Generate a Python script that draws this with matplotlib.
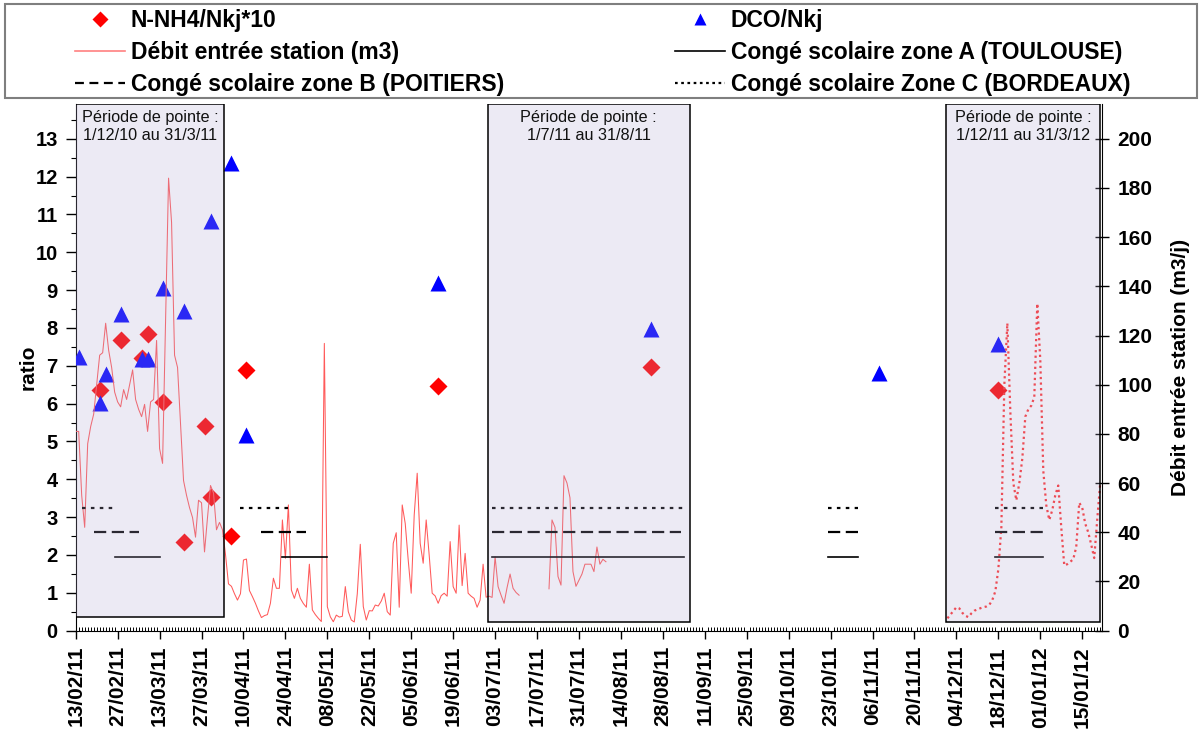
import numpy as np
import pandas as pd
import matplotlib
matplotlib.use("Agg")
import matplotlib.pyplot as plt
import matplotlib.dates as mdates
from matplotlib.patches import Rectangle
from matplotlib.lines import Line2D
from matplotlib.ticker import FixedLocator, MultipleLocator

plt.rcParams['font.family'] = ['Liberation Sans', 'DejaVu Sans']

# ---------------- data ----------------
start_date = '2011-02-13'
end_date = '2012-01-21'

# N-NH4/Nkj*10 (ratio, left axis)
nh4_dates = ['2011-02-21', '2011-02-28', '2011-03-07', '2011-03-09', '2011-03-14',
             '2011-03-21', '2011-03-28', '2011-03-30', '2011-04-06', '2011-04-11',
             '2011-06-14', '2011-08-24', '2011-12-18']
nh4_values = [6.36, 7.68, 7.20, 7.85, 6.03, 2.33, 5.40, 3.52, 2.50, 6.89, 6.47, 6.96, 6.36]

# DCO/Nkj (ratio, left axis)
dco_dates = ['2011-02-14', '2011-02-21', '2011-02-23', '2011-02-28', '2011-03-07',
             '2011-03-09', '2011-03-14', '2011-03-21', '2011-03-30', '2011-04-06',
             '2011-04-11', '2011-06-14', '2011-08-24', '2011-11-08', '2011-12-18']
dco_values = [7.22, 6.01, 6.78, 8.36, 7.17, 7.17, 9.05, 8.44, 10.83, 12.37,
              5.16, 9.19, 7.97, 6.81, 7.58]

# Débit entrée station (m3/j), daily from 13/02/11 (right axis)
debit_2011_start = '2011-02-13'
debit_2011 = [81, 81, 55, 42, 76, 83, 88, 100, 112, 113,
              125, 114, 107, 97, 93, 91, 98, 94, 100, 106,
              94, 90, 87, 92, 81, 93, 94, 118, 74, 68,
              125, 184, 166, 112, 107, 84, 61, 55, 50, 46,
              38, 53, 52, 32, 46, 59, 56, 41, 44, 41,
              31, 19, 18, 15, 12.4, 15, 28.7, 29.1, 16.3, 13.8,
              11.1, 8, 5.3, 6.1, 6.5, 11.1, 21.3, 17.2, 17.2, 45,
              29.4, 51.1, 16.5, 13.1, 17.2, 13.1, 11, 9.5, 27, 8.4,
              6.5, 5, 3.7, 116.8, 9.7, 5.6, 3.6, 6.3, 5.5, 5.8,
              17.9, 7.7, 4.3, 3.5, 15, 35.1, 9.8, 4.3, 8.1, 8,
              10.4, 10, 12, 15.2, 7.7, 6.3, 35.5, 39.8, 9.5, 51.1,
              43.6, 28.7, 15.2, 47, 64, 35.5, 27.4, 45, 30.7, 15.2,
              14.1, 11.1, 14.2, 15.2, 14, 36.2, 17.9, 15.2, 42.9, 18.3,
              31.4, 15.2, 14, 13.1, 9.5, 12.4, 27, 13.6, 14, 13.5,
              30, 17.9, 14.4, 11.1, 17.5, 23, 17.2, 15.5, 14.4,
              None, None, None, None, None, None, None, None, None,
              17, 45, 42, 22, 18.5, 63, 60, 54, 24, 18,
              20.5, 23, 27, 27, 27, 24, 34, 27, 29, 28]

# Débit entrée station (m3/j), daily from 01/12/11 (dotted part)
debit_hiver_start = '2011-12-01'
debit_hiver = [5.0, 6.5, 8, 9.5, 9.0, 7.2, 6, 5.5, 7, 8.1,
               8.6, 9.1, 9.5, 9.8, 10.5, 12.5, 16, 25, 42, 100,
               125, 89, 60, 53, 60, 70, 87, 90, 91.5, 95,
               133, 110, 65, 51, 45, 49, 55, 59, 42, 26.5,
               27, 28, 29, 34, 52, 50, 43.5, 40, 35, 29.5,
               45, 60]

# Congés scolaires (periods) and their display level (m3/j, right axis)
zone_a_level = 30
zone_b_level = 40
zone_c_level = 50
zone_a = [('2011-02-26', '2011-03-13'), ('2011-04-23', '2011-05-08'),
          ('2011-07-02', '2011-09-04'), ('2011-10-22', '2011-11-01'),
          ('2011-12-17', '2012-01-02')]
zone_b = [('2011-02-19', '2011-03-06'), ('2011-04-16', '2011-05-01'),
          ('2011-07-02', '2011-09-03'), ('2011-10-22', '2011-11-01'),
          ('2011-12-17', '2012-01-02')]
zone_c = [('2011-02-15', '2011-02-26'), ('2011-04-09', '2011-04-25'),
          ('2011-07-02', '2011-09-04'), ('2011-10-22', '2011-11-01'),
          ('2011-12-17', '2012-01-02')]

# Périodes de pointe (shaded boxes)
pointe_labels = ['Période de pointe :\n1/12/10 au 31/3/11',
                 'Période de pointe :\n1/7/11 au 31/8/11',
                 'Période de pointe :\n1/12/11 au 31/3/12']
pointe_spans = [('2010-12-01', '2011-04-03 14:00'),
                ('2011-06-30 12:00', '2011-09-06'),
                ('2011-11-30 14:00', '2012-01-21')]
pointe_bottoms = [5.6, 3.5, 3.5]

# ---------------- figure ----------------
fig = plt.figure(figsize=(12, 7.33), dpi=100)
ax = fig.add_axes([75.7 / 1200, 1 - 630.6 / 733, (1102.3 - 75.7) / 1200, (630.6 - 104) / 733])
ax2 = ax.twinx()

ymax_ratio = 13.92
ax.set_ylim(0, ymax_ratio)
ax2.set_ylim(0, ymax_ratio * 200 / 13)
x0 = pd.Timestamp(start_date)
x1 = x0 + pd.Timedelta(days=342.7)
ax.set_xlim(x0, x1)

# débit line
d_dates = pd.date_range(debit_2011_start, periods=len(debit_2011), freq='D')
d_vals = np.array([np.nan if v is None else v for v in debit_2011], dtype=float)
ax2.plot(d_dates, d_vals, color='#ff5a5a', lw=0.75, zorder=2)
h_dates = pd.date_range(debit_hiver_start, periods=len(debit_hiver), freq='D')
ax2.plot(h_dates, debit_hiver, color='#ff3030', lw=1.6, ls=(0, (1.0, 1.5)), zorder=2)

# holidays
styles = [(zone_a, zone_a_level, dict(ls='-', lw=1.2)),
          (zone_b, zone_b_level, dict(ls=(0, (5.5, 2.5)), lw=1.6)),
          (zone_c, zone_c_level, dict(ls=(0, (1.6, 2.4)), lw=1.6))]
for periods, level, st in styles:
    for s, e in periods:
        ax2.plot([pd.Timestamp(s), pd.Timestamp(e)], [level, level],
                 color='black', zorder=3, **st)

# markers
ax.plot(pd.to_datetime(nh4_dates), nh4_values, ls='none', marker='D', ms=9,
        color='#ff0000', mec='none', zorder=3)
ax.plot(pd.to_datetime(dco_dates), dco_values, ls='none', marker='^', ms=11,
        color='#0000ff', mec='none', zorder=4)

# shaded boxes (drawn on top, semi transparent)
ytop = ax2.get_ylim()[1]
for (s, e), bot, lab in zip(pointe_spans, pointe_bottoms, pointe_labels):
    s_t, e_t = pd.Timestamp(s), pd.Timestamp(e)
    xs, xe = mdates.date2num(s_t), mdates.date2num(e_t)
    rect = Rectangle((xs, bot), xe - xs, ytop - bot,
                     facecolor=(0.70, 0.66, 0.82, 0.24), edgecolor='black',
                     lw=1.1, zorder=10, clip_on=True)
    ax2.add_patch(rect)
    vis_s = max(xs, mdates.date2num(x0))
    ax2.text((vis_s + xe) / 2, 0.988, lab, transform=ax2.get_xaxis_transform(),
             ha='center', va='top', fontsize=11.7, linespacing=1.22,
             color='#111111', zorder=11)

# ---------------- axes styling ----------------
major = pd.date_range(start_date, end_date, freq='14D')
minor = pd.date_range(start_date, end_date, freq='D')
ax.xaxis.set_major_locator(FixedLocator(mdates.date2num(major)))
ax.xaxis.set_minor_locator(FixedLocator(mdates.date2num(minor)))
ax.xaxis.set_major_formatter(mdates.DateFormatter('%d/%m/%y'))
ax.tick_params(axis='x', which='major', direction='out', length=6, width=1,
               pad=5, labelsize=15, rotation=90)
ax.tick_params(axis='x', which='minor', direction='in', length=3, width=0.7)
for lbl in ax.get_xticklabels():
    lbl.set_fontweight('bold')

ax.yaxis.set_minor_locator(MultipleLocator(0.5))
ax.set_yticks(np.arange(0, 14, 1))
ax.tick_params(axis='y', which='major', direction='out', length=7, width=1,
               pad=6, labelsize=14.5)
ax.tick_params(axis='y', which='minor', direction='out', length=3.5, width=0.8)
for lbl in ax.get_yticklabels():
    lbl.set_fontweight('bold')

ax2.set_yticks(np.arange(0, 201, 20))
ax2.tick_params(axis='y', which='major', direction='inout', length=10, width=1,
                pad=6, labelsize=15)
for lbl in ax2.get_yticklabels():
    lbl.set_fontweight('bold')

for a in (ax, ax2):
    a.spines['top'].set_visible(False)
    a.patch.set_visible(False)
ax.spines['right'].set_visible(False)
ax2.spines['left'].set_visible(False)
ax2.spines['bottom'].set_visible(False)

ax.set_ylabel('ratio', fontsize=15, fontweight='bold', labelpad=-2)
ax2.set_ylabel('Débit entrée station (m3/j)', fontsize=15, fontweight='bold', labelpad=13.5)

# ---------------- legend ----------------
fig.patches.append(Rectangle((5 / 1200, 1 - 98 / 733), 1192 / 1200, 94 / 733,
                             transform=fig.transFigure, fill=False,
                             edgecolor='#7f7f7f', lw=1.5, zorder=20))
h_nh4 = Line2D([], [], ls='none', marker='D', ms=8, color='#ff0000', mec='none')
h_deb = Line2D([], [], color='#ff8080', lw=1.2)
h_b = Line2D([], [], color='black', lw=1.6, ls=(0, (4, 2.5)))
h_dco = Line2D([], [], ls='none', marker='^', ms=9, color='#0000ff', mec='none')
h_a = Line2D([], [], color='black', lw=1.2)
h_c = Line2D([], [], color='black', lw=1.6, ls=(0, (1.2, 1.6)))

leg_kw = dict(frameon=False, handlelength=2.17, handletextpad=0.26,
              labelspacing=0.38, borderpad=0, borderaxespad=0, loc='upper left',
              prop={'weight': 'bold', 'size': 16.5})
leg1 = fig.legend([h_nh4, h_deb, h_b],
                  ['N-NH4/Nkj*10', 'Débit entrée station (m3)',
                   'Congé scolaire zone B (POITIERS)'],
                  bbox_to_anchor=(75 / 1200, 1 - 9.5 / 733), **leg_kw)
leg2 = fig.legend([h_dco, h_a, h_c],
                  ['DCO/Nkj', 'Congé scolaire zone A (TOULOUSE)',
                   'Congé scolaire Zone C (BORDEAUX)'],
                  bbox_to_anchor=(675 / 1200, 1 - 9.5 / 733), **leg_kw)

fig.savefig('out.png', dpi=100)
